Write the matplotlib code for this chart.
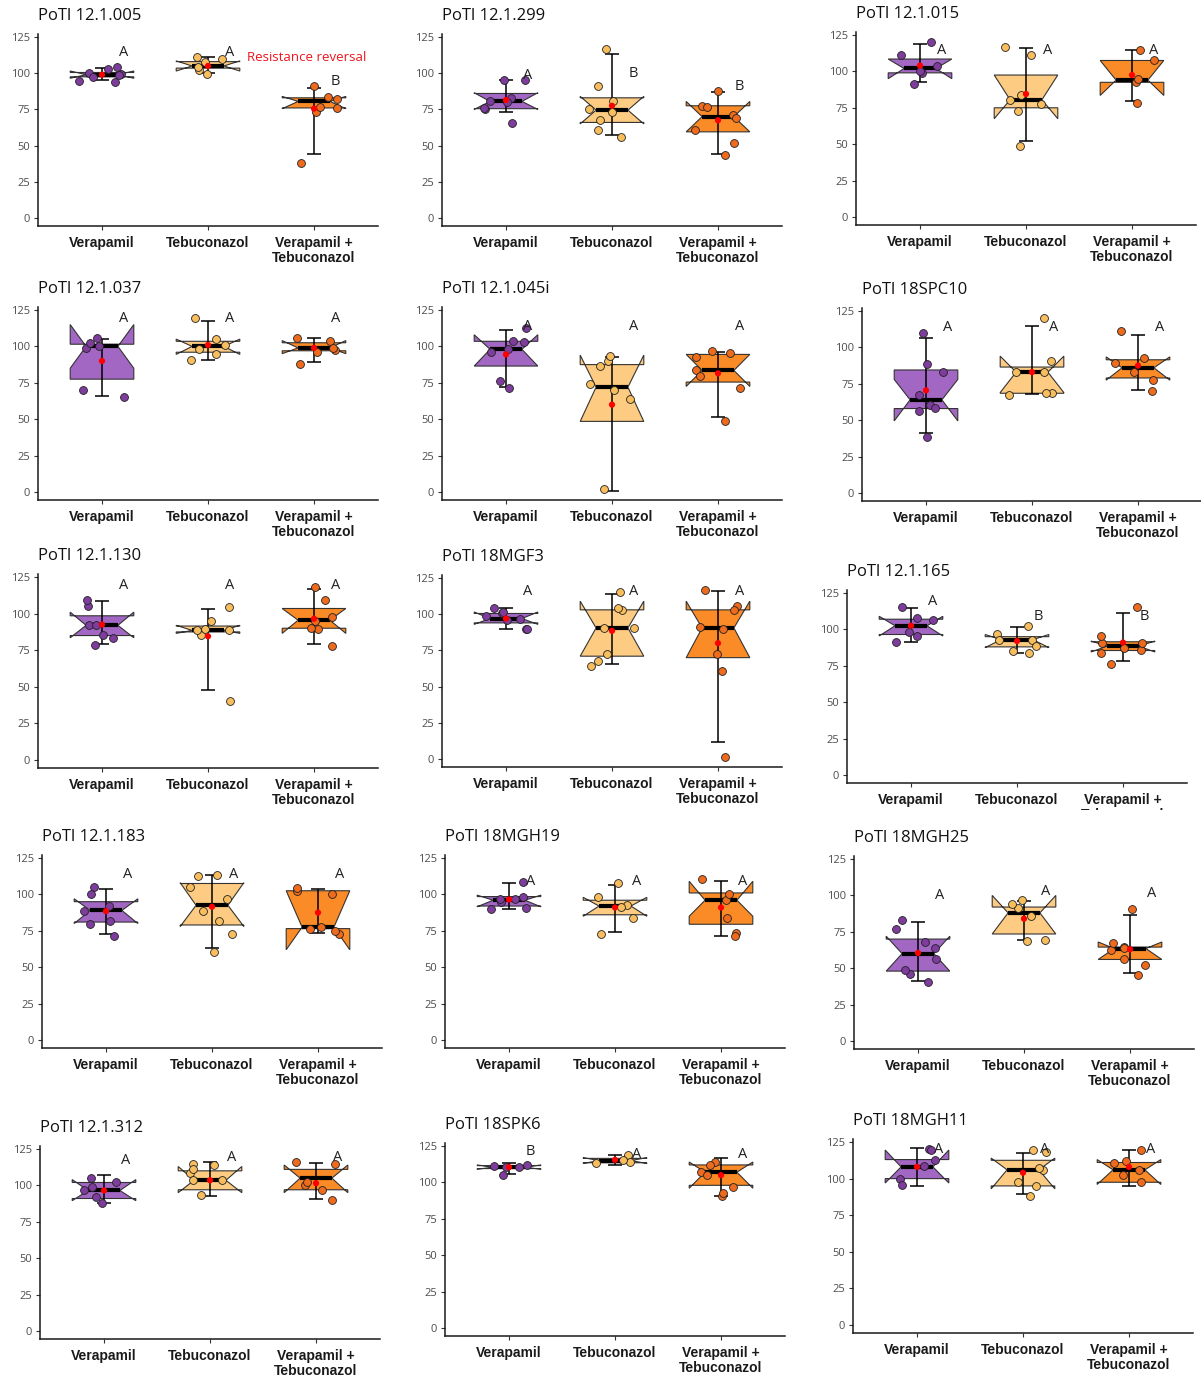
import numpy as np
import matplotlib.pyplot as plt
from matplotlib.transforms import Bbox, TransformedBbox

plt.rcParams['font.family'] = ['Open Sans', 'DejaVu Sans']

treatments = ["Verapamil", "Tebuconazol", "Verapamil +\nTebuconazol"]
isolates = ["PoTl 12.1.005", "PoTl 12.1.299", "PoTl 12.1.015",
            "PoTl 12.1.037", "PoTl 12.1.045i", "PoTl 18SPC10",
            "PoTl 12.1.130", "PoTl 18MGF3", "PoTl 12.1.165",
            "PoTl 12.1.183", "PoTl 18MGH19", "PoTl 18MGH25",
            "PoTl 12.1.312", "PoTl 18SPK6", "PoTl 18MGH11"]

# box statistics per isolate: [Verapamil, Tebuconazol, Verapamil + Tebuconazol]
q1 = [[97.5, 103.5, 76], [75.5, 66, 59.5], [99, 75, 92.5],
      [77.5, 96, 97], [86.5, 48.5, 75.5], [58, 68.5, 79],
      [85, 87.5, 90], [94, 71, 70], [96.5, 88, 85.5],
      [81, 79, 76.5], [92, 86, 79.5], [48, 73.5, 56],
      [91, 97, 97], [109.5, 113.5, 98], [100, 95, 97.5]]
med = [[99, 105, 80.5], [80.5, 74.5, 70], [102, 80.5, 94],
       [100, 100, 99], [98, 72, 83.5], [64, 83, 86],
       [92, 88.5, 95.5], [97, 90.5, 90.5], [102.5, 93, 88.5],
       [89, 92.5, 77.5], [96, 92, 96], [60, 88, 63.5],
       [96.5, 103.5, 105], [110.5, 115, 107], [108, 106, 106]]
q3 = [[100.5, 108, 83], [86, 83, 77.5], [108.5, 97.5, 107.5],
      [101.5, 103.5, 102.5], [103.5, 87.5, 94.5], [84.5, 86.5, 91.5],
      [98.5, 91.5, 103.5], [100.5, 103, 103], [107, 95, 91.5],
      [95, 107.5, 102.5], [98.5, 96, 101], [70, 92, 64.5],
      [102, 110, 111], [111.5, 116.5, 112], [113, 112.5, 111]]
notch_lo = [[96.5, 101.5, 75.5], [75, 65, 59.5], [95, 67.5, 83.5],
            [85, 94.5, 95], [86.5, 48.5, 72.5], [49.5, 69, 77.5],
            [83.5, 86.5, 86.5], [93, 71, 70], [95.5, 87.5, 84.5],
            [80, 78, 62], [91.5, 85, 85], [48, 73.5, 56],
            [89.5, 95, 95], [109, 113, 96], [97, 93, 96]]
notch_hi = [[101.5, 108.5, 84], [86.5, 84, 80.5], [108.5, 97.5, 107.5],
            [115, 105, 104], [108, 94, 94.5], [78, 94, 93.5],
            [101, 92, 103.5], [101.5, 109, 109], [109, 96.5, 92],
            [97, 108, 102.5], [99.5, 98, 109], [72, 100, 68],
            [104, 113, 114], [112, 117, 114], [119.5, 114, 113]]
means = [[99, 105, 75.5], [81.5, 77.5, 67.5], [104, 84.5, 97.5],
         [90, 101, 99], [94.5, 60, 81.5], [70.5, 83, 87.5],
         [92.5, 84.5, 96.5], [97, 88.5, 80], [102.5, 92, 91],
         [88.5, 91.5, 87.5], [96.5, 91, 91], [60.5, 84, 63],
         [96.5, 103.5, 101.5], [110.5, 115.5, 105], [108, 104, 108]]
err_lo = [[95, 100, 44], [73.5, 57, 44.5], [92.5, 52, 80],
          [66, 91, 89], [72, 0.5, 51.5], [41.5, 68, 71],
          [79, 47.5, 79.5], [89.5, 65.5, 12], [91.5, 84, 78],
          [72.5, 63, 73.5], [90, 74.5, 71.5], [41.5, 69.5, 46.5],
          [88, 92.5, 91], [105.5, 112, 91], [95, 89.5, 95]]
err_hi = [[103.5, 111, 89.5], [95.5, 113, 87], [119, 116, 114.5],
          [105, 117.5, 105.5], [111.5, 93, 96], [106.5, 115, 108.5],
          [108.5, 103, 117], [104, 114, 116], [114.5, 101.5, 111.5],
          [104, 113, 104], [107.5, 106.5, 109], [81.5, 96, 86.5],
          [107, 116, 115.5], [113, 119, 117], [121, 117.5, 119.5]]

letters = [["A", "A", "B"], ["A", "B", "B"], ["A", "A", "A"],
           ["A", "A", "A"], ["A", "A", "A"], ["A", "A", "A"],
           ["A", "A", "A"], ["A", "A", "A"], ["A", "B", "B"],
           ["A", "A", "A"], ["A", "A", "A"], ["A", "A", "A"],
           ["A", "A", "A"], ["B", "A", "A"], ["A", "A", "A"]]
letter_y = [[114, 114, 94.5], [98.5, 100, 90.5], [114.5, 114.5, 114.5],
            [119, 119, 119], [114, 114, 114], [113.5, 113.5, 113.5],
            [119, 119, 119], [115.5, 115.5, 115.5], [119, 109, 109],
            [113.5, 113.5, 113.5], [109, 109, 109], [100, 103, 101],
            [117, 119, 119.5], [121, 119.5, 119.5], [120, 120, 120]]

# individual replicates
points = [
    [[103, 99.5, 94, 100, 97.5, 98.5, 94.5, 104], [109.5, 99.5, 102, 104.5, 111, 108], [91, 73.5, 82.5, 83.5, 77, 76, 38]],
    [[81, 83, 75.5, 76, 80, 95.5, 95.5, 65.5], [80.5, 73, 68, 75.5, 60.5, 56, 91.5, 117], [61, 71, 77.5, 77, 69, 88, 51.5, 43.5]],
    [[120, 111, 99, 100, 104, 91.5], [111.5, 117, 84, 72.5, 80.5, 77.5, 48.5], [107.5, 92.5, 78.5, 94.5, 115]],
    [[99, 100, 102, 105.5, 70, 65], [119.5, 105, 98, 101, 94.5, 90.5], [103.5, 97.5, 99, 96, 106, 88]],
    [[112.5, 98, 96, 103, 103.5, 71.5, 76], [90, 86.5, 74.5, 64, 93.5, 70, 2], [95.5, 93, 96.5, 83.5, 80, 71.5, 49]],
    [[110, 88.5, 83, 67.5, 60.5, 58.5, 56.5, 38.5], [120, 91, 83, 68.5, 67.5, 83, 68.5], [111, 83, 77.5, 89, 93, 70]],
    [[85.5, 83.5, 92, 105.5, 92.5, 109, 78.5], [104.5, 95, 85.5, 89, 89, 89.5, 40.5], [118, 95, 98, 109.5, 89.5, 90.5, 78]],
    [[101, 90, 98.5, 101.5, 96, 89.5, 104, 96.5], [115.5, 103, 104.5, 90.5, 90.5, 72.5, 67.5, 64.5], [117, 106, 103, 91, 90, 72.5, 61, 1.5]],
    [[115.5, 106.5, 98, 95.5, 107.5, 91.5], [96.5, 85.5, 83.5, 93, 102.5, 92.5, 88.5], [115.5, 86, 87.5, 90.5, 90.5, 95.5, 83.5, 76.5]],
    [[105, 100, 92, 88.5, 82, 79.5, 71.5], [105, 88.5, 72.5, 60.5, 96.5, 81.5, 113.5, 112.5], [77.5, 102, 100.5, 73, 75, 104.5, 76.5]],
    [[95, 90, 96.5, 98.5, 97, 91, 108.5], [98.5, 93, 84, 73, 108, 91.5], [96, 110.5, 100.5, 84, 73.5, 71.5]],
    [[46, 40.5, 64, 56, 83, 77, 68, 49], [69, 69.5, 91.5, 94, 96.5, 86], [62.5, 56.5, 67, 45, 52.5, 64.5, 64, 91]],
    [[105, 99, 92, 88, 97, 102], [114, 93.5, 108.5, 104, 104, 114.5, 111], [116, 114.5, 100, 102, 90, 97]],
    [[111, 110.5, 112, 105, 110.5], [113.5, 116, 118.5, 114, 115.5], [114, 107, 91, 97, 105, 112, 93]],
    [[120, 112.5, 99.5, 95.5, 119.5, 108.5], [119.5, 118, 106, 107, 95, 98, 88], [110.5, 97.5, 119.5, 106, 112, 102.5]],
]

box_colors = ["#A266C3", "#FDCB82", "#FA8B26"]
point_colors = ["#7E3C9D", "#F8BE5E", "#EE6A1C"]

# panel placement in pixels: first category centre, y of 0, y of 125
W, H = 1201, 1378
panel_px = [(102, 218, 37), (506, 218, 37), (920, 217, 35),
            (102, 492, 310), (506, 492, 310), (926, 493, 311),
            (102, 760, 577), (506, 759, 578), (911, 775, 593),
            (106, 1040, 858), (509, 1040, 858), (918, 1041, 859),
            (104, 1331, 1149), (509, 1328, 1146), (917, 1325, 1142)]
STEP = 106
Y_LO, Y_HI = -5.8, 127

fig = plt.figure(figsize=(W / 100, H / 100), dpi=100)
rng = np.random.default_rng(7)
pos = [1, 2, 3]

for i, name in enumerate(isolates):
    c1, y0, y125 = panel_px[i]
    s = (y0 - y125) / 125
    left = c1 - 0.6 * STEP
    bottom = y0 - Y_LO * s
    top = y125 - (Y_HI - 125) * s
    ax = fig.add_axes([left / W, 1 - bottom / H, 3.2 * STEP / W, (bottom - top) / H])

    stats = [dict(med=med[i][j], q1=q1[i][j], q3=q3[i][j],
                  cilo=notch_lo[i][j], cihi=notch_hi[i][j],
                  whislo=q1[i][j], whishi=q3[i][j], fliers=[])
             for j in range(3)]
    bp = ax.bxp(stats, positions=pos, widths=0.6, shownotches=True,
                patch_artist=True, showcaps=False, showfliers=False,
                boxprops=dict(edgecolor="#333333", linewidth=0.8),
                medianprops=dict(color="black", linewidth=3, solid_capstyle="butt"),
                whiskerprops=dict(linewidth=0), manage_ticks=False)
    for patch, col in zip(bp["boxes"], box_colors):
        patch.set_facecolor(col)
        patch.set_zorder(2)
    for line in bp["medians"]:
        line.set_zorder(3)

    for j in range(3):
        m = means[i][j]
        ax.errorbar(pos[j], m, yerr=[[m - err_lo[i][j]], [err_hi[i][j] - m]],
                    fmt="none", ecolor="black", elinewidth=1.1,
                    capsize=5, capthick=1.1, zorder=4)
        pts = np.array(points[i][j])
        xj = pos[j] + rng.uniform(-0.22, 0.22, len(pts))
        ax.scatter(xj, pts, s=32, c=point_colors[j], edgecolors="#222222",
                   linewidths=0.6, zorder=5)
        ax.scatter(pos[j], m, s=20, color="red", edgecolors="none", zorder=6)
        ax.text(pos[j] + 0.2, letter_y[i][j], letters[i][j], fontsize=10.5,
                color="#222222", ha="center", va="center", zorder=7)

    ax.set_xlim(0.4, 3.6)
    ax.set_ylim(Y_LO, Y_HI)
    ax.set_yticks([0, 25, 50, 75, 100, 125])
    ax.set_xticks(pos)
    ax.set_xticklabels(treatments, fontweight="bold", fontsize=10,
                       family=["Liberation Sans", "DejaVu Sans"], color="#1a1a1a",
                       linespacing=1.1)
    ax.tick_params(axis="y", labelsize=8, labelcolor="#4d4d4d", length=3,
                   width=0.8, color="#333333", pad=3)
    ax.tick_params(axis="x", length=3, width=0.8, color="#333333", pad=4)
    for side in ("top", "right"):
        ax.spines[side].set_visible(False)
    for side in ("left", "bottom"):
        ax.spines[side].set_linewidth(1.1)
        ax.spines[side].set_color("#1a1a1a")
    ax.patch.set_alpha(0)

    fig.text(left / W, 1 - (y125 - 21) / H, name, fontsize=12,
             color="#111111", ha="left", va="center")

    if i == 0:
        ax.text(2.37, 110.5, "Resistance reversal", color="#F0141E",
                fontsize=9.5, ha="left", va="center")
    if i == 8:
        # the lower line of this panel's labels runs into the next row
        clip = TransformedBbox(Bbox([[0, 1 - 810 / H], [1, 1]]), fig.transFigure)
        for tick in ax.xaxis.get_major_ticks():
            tick.label1.set_clip_on(True)
            tick.label1.set_clip_box(clip)

fig.savefig("out.png", dpi=100, facecolor="white")
